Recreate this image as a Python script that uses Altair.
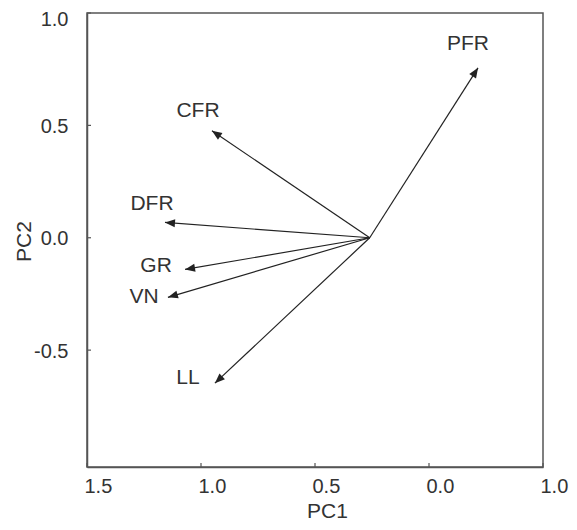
import math
import altair as alt
import pandas as pd

# ---- data ----
VARS = ["PFR", "CFR", "DFR", "GR", "VN", "LL"]
PC1 = [-0.215, 0.952, 1.158, 1.070, 1.145, 0.939]
PC2 = [0.756, 0.476, 0.068, -0.141, -0.265, -0.647]
LABEL_PC1 = [-0.171, 1.013, 1.215, 1.197, 1.250, 1.057]
LABEL_PC2 = [0.862, 0.565, 0.148, -0.127, -0.265, -0.625]
ORIGIN_PC1 = 0.26
ORIGIN_PC2 = 0.0
X_TICKS = [1.5, 1.0, 0.5, 0.0, -0.5]
X_TICK_LABELS = ["1.5", "1.0", "0.5", "0.0", "1.0"]
Y_TICKS = [1.0, 0.5, 0.0, -0.5]
Y_TICK_LABELS = ["1.0", "0.5", "0.0", "-0.5"]
X_DOMAIN = [-0.5, 1.5]
Y_DOMAIN = [-1.02, 1.0]

W, H = 456, 454
FONT = "Liberation Sans"
INK = "#222222"
TXT = "#333333"
FRAME = "#555555"

# pixel per unit (x reversed, screen y downward) to orient the arrow heads
kx = -W / (X_DOMAIN[1] - X_DOMAIN[0])
ky = -H / (Y_DOMAIN[1] - Y_DOMAIN[0])
angles = []
for x, y in zip(PC1, PC2):
    dxp = (x - ORIGIN_PC1) * kx
    dyp = (y - ORIGIN_PC2) * ky
    a = math.degrees(math.atan2(dxp, -dyp)) % 360
    angles.append(a)

df = pd.DataFrame({
    "var": VARS, "pc1": PC1, "pc2": PC2,
    "lx": LABEL_PC1, "ly": LABEL_PC2,
    "x0": [ORIGIN_PC1] * len(VARS), "y0": [ORIGIN_PC2] * len(VARS),
    "angle": angles,
})


def label_expr(values, labels):
    parts = [f"abs(datum.value - ({v})) < 1e-6 ? '{l}'" for v, l in zip(values, labels)]
    return " : ".join(parts) + " : ''"


xscale = alt.Scale(domain=X_DOMAIN, reverse=True, nice=False, zero=False)
yscale = alt.Scale(domain=Y_DOMAIN, nice=False, zero=False)

xaxis = alt.Axis(values=X_TICKS, labelExpr=label_expr(X_TICKS, X_TICK_LABELS),
                 title="PC1", ticks=False, labelAlign="left", labelPadding=9,
                 labelOffset=-3, labelBaseline="top", titleX=240, titleY=50,
                 titleBaseline="alphabetic", labelFlush=False)
yaxis = alt.Axis(values=Y_TICKS, labelExpr=label_expr(Y_TICKS, Y_TICK_LABELS),
                 title="PC2", ticks=False, labelPadding=19,
                 labelOffset={"condition": {"test": "datum.value >= 0.99", "value": 6},
                              "value": 1},
                 titleX=-57, titleY=228, titleBaseline="alphabetic",
                 titleAngle=-90, titleAnchor="middle", labelFlush=False)

base = alt.Chart(df)

lines = base.mark_rule(color=INK, strokeWidth=1.2).encode(
    x=alt.X("x0:Q", scale=xscale, axis=xaxis),
    y=alt.Y("y0:Q", scale=yscale, axis=yaxis),
    x2="pc1:Q",
    y2="pc2:Q",
)

heads = base.mark_point(shape="M0,0 L0.4,1 L-0.4,1 Z", filled=True, size=400,
                        color=INK, opacity=1).encode(
    x=alt.X("pc1:Q", scale=xscale),
    y=alt.Y("pc2:Q", scale=yscale),
    angle=alt.Angle("angle:Q", scale=None),
)

labels = base.mark_text(font=FONT, fontSize=21, color=TXT, align="center",
                        baseline="middle").encode(
    x=alt.X("lx:Q", scale=xscale),
    y=alt.Y("ly:Q", scale=yscale),
    text="var:N",
)

xt = pd.DataFrame({"v": X_TICKS})
yt = pd.DataFrame({"v": Y_TICKS})
xticks = alt.Chart(xt).mark_rule(color=FRAME, strokeWidth=1.2).encode(
    x=alt.X("v:Q", scale=xscale), y=alt.value(H), y2=alt.value(H - 4))
yticks = alt.Chart(yt).mark_rule(color=FRAME, strokeWidth=1.2).encode(
    y=alt.Y("v:Q", scale=yscale), x=alt.value(0), x2=alt.value(4))

chart = alt.layer(lines, heads, labels, xticks, yticks).properties(
    width=W, height=H, autosize="none",
    padding={"left": 79, "top": 5, "right": 26, "bottom": 55},
).configure_view(
    stroke=FRAME, strokeWidth=1.5,
).configure_axis(
    grid=False, domainColor=FRAME, domainWidth=1.5,
    labelFont=FONT, labelFontSize=20, labelColor=TXT,
    titleFont=FONT, titleFontSize=21, titleColor=TXT, titleFontWeight="normal",
)

chart.save("out.html", embed_options={"renderer": "svg", "actions": False})
